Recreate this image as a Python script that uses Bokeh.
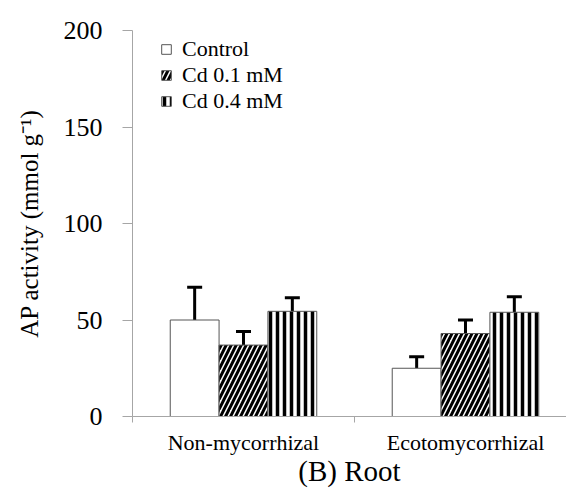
from bokeh.plotting import figure
from bokeh.models import (ColumnDataSource, Range1d, FixedTicker, Whisker, TeeHead,
                          Legend, LegendItem)
from bokeh.embed import file_html
from bokeh.resources import INLINE

# ---- data ----
categories = ["Non-mycorrhizal", "Ecotomycorrhizal"]
treatments = ["Control", "Cd 0.1 mM", "Cd 0.4 mM"]
control = [50, 25]
cd01 = [37, 43]
cd04 = [54.5, 54]
control_err = [17, 6]
cd01_err = [7, 7]
cd04_err = [7, 8]
y_ticks = [0, 50, 100, 150, 200]

series = [control, cd01, cd04]
errors = [control_err, cd01_err, cd04_err]
hatches = [None, "right_diagonal_line", "vertical_line"]
hatch_scales = [10, 10, 7]
hatch_weights = [1, 3, 3.5]

FONT = "Liberation Serif"
bar_w = 0.22

p = figure(width=566, height=491, output_backend="svg", toolbar_location=None,
           x_range=Range1d(0, len(categories) - 0.045), y_range=Range1d(0, 200),
           min_border_left=132, min_border_right=0, min_border_top=30,
           min_border_bottom=75)
p.xgrid.visible = False
p.ygrid.visible = False
p.outline_line_color = None
p.background_fill_color = "white"
p.border_fill_color = "white"

renderers = []
for k, (vals, errs) in enumerate(zip(series, errors)):
    xs = [i + 0.5 + (k - 1) * bar_w for i in range(len(categories))]
    src = ColumnDataSource(dict(x=xs, top=vals,
                                upper=[v + e for v, e in zip(vals, errs)]))
    kw = {}
    if hatches[k]:
        kw = dict(hatch_pattern=hatches[k], hatch_color="black",
                  hatch_scale=hatch_scales[k], hatch_weight=hatch_weights[k])
    r = p.vbar(x="x", top="top", bottom=0, width=bar_w, source=src,
               fill_color="white", line_color="#555555", line_width=1, **kw)
    renderers.append(r)
    w = Whisker(base="x", upper="upper", lower="top", source=src,
                dimension="height", line_color="black", line_width=3,
                upper_head=TeeHead(size=15, line_color="black", line_width=3),
                lower_head=None)
    p.add_layout(w)

# y axis
yax = p.yaxis[0]
yax.ticker = FixedTicker(ticks=y_ticks)
yax.axis_line_color = "#a6a6a6"
yax.major_tick_line_color = "#a6a6a6"
yax.major_tick_out = 10
yax.major_tick_in = 0
yax.minor_tick_line_color = None
yax.major_label_text_font = FONT
yax.major_label_text_font_size = "26px"
yax.major_label_text_color = "black"
yax.major_label_standoff = 20
yax.axis_label = "AP activity (mmol g\u207b\u00b9)"
yax.axis_label_text_font = FONT
yax.axis_label_text_font_size = "25px"
yax.axis_label_text_font_style = "normal"
yax.axis_label_text_color = "black"
yax.axis_label_standoff = 18

# x axis
xax = p.xaxis[0]
centers = [i + 0.5 for i in range(len(categories))]
bounds = list(range(len(categories) + 1))
xax.ticker = FixedTicker(ticks=centers, minor_ticks=bounds)
xax.major_label_overrides = {c: name for c, name in zip(centers, categories)}
xax.axis_line_color = "#a6a6a6"
xax.major_tick_line_color = None
xax.major_tick_out = 0
xax.major_tick_in = 0
xax.minor_tick_line_color = "#a6a6a6"
xax.minor_tick_out = 6
xax.minor_tick_in = 0
xax.major_label_text_font = FONT
xax.major_label_text_font_size = "22px"
xax.major_label_text_color = "black"
xax.major_label_standoff = 7
xax.axis_label = "(B) Root"
xax.axis_label_text_font = FONT
xax.axis_label_text_font_size = "29px"
xax.axis_label_text_font_style = "normal"
xax.axis_label_text_color = "black"
xax.axis_label_standoff = -3

legend = Legend(items=[LegendItem(label=t, renderers=[r]) for t, r in zip(treatments, renderers)],
                location=(28, 302), padding=0, margin=0, spacing=0,
                label_height=26, glyph_height=12, glyph_width=12, label_standoff=10,
                label_text_font=FONT, label_text_font_size="22px",
                label_text_color="black",
                border_line_color=None, background_fill_alpha=0)
p.add_layout(legend)

open("out.html", "w").write(file_html(p, INLINE))
